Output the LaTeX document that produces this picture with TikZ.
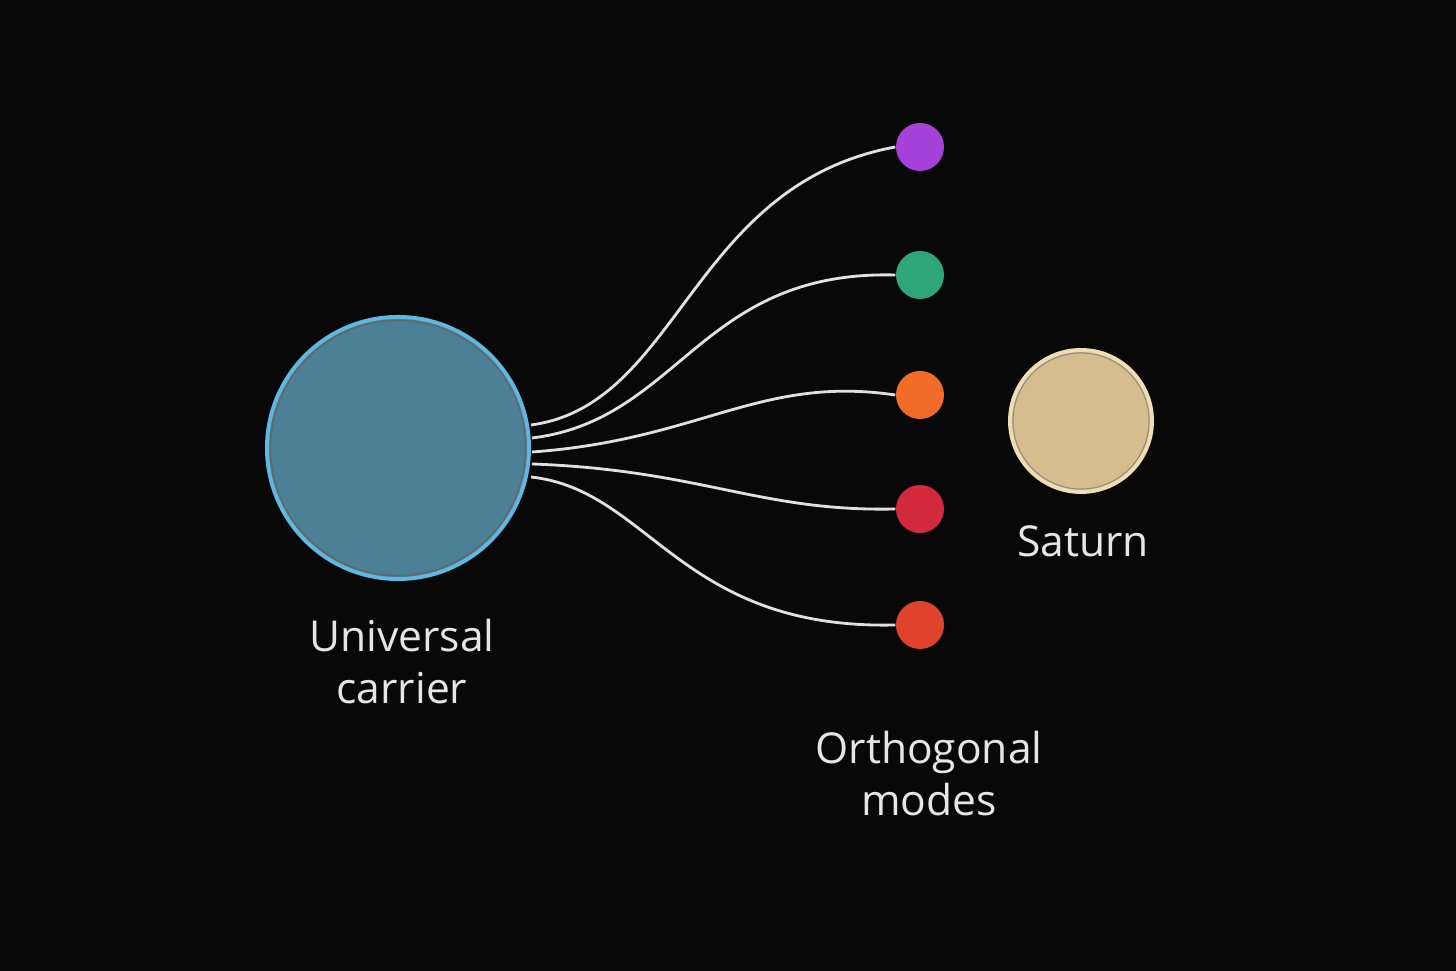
\documentclass[tikz,border=0pt]{standalone}
\usepackage{fontspec}
\setmainfont{Open Sans}
\begin{document}
\begin{tikzpicture}[x=0.01cm,y=-0.01cm,
  lbl/.style={text=labelgray, font=\fontsize{12.1}{14.8}\selectfont, align=center, inner sep=0pt},
  wire/.style={draw=wiregray, line width=0.8pt}]
\definecolor{bg}{HTML}{080808}
\definecolor{labelgray}{HTML}{E6E6E6}
\definecolor{wiregray}{HTML}{E0E0E0}
\definecolor{carrierfill}{HTML}{4B8097}
\definecolor{carrierrim}{HTML}{5DB8E2}
\definecolor{saturnfill}{HTML}{D5BD8E}
\definecolor{saturnrim}{HTML}{F2DDB0}
\definecolor{mpurple}{HTML}{A441D8}
\definecolor{mgreen}{HTML}{2EA67A}
\definecolor{morange}{HTML}{F06A28}
\definecolor{mred}{HTML}{D22A3C}
\definecolor{mredor}{HTML}{E0432C}
\fill[bg] (0,0) rectangle (1456,971);
\useasboundingbox (0,0) rectangle (1456,971);
% carrier
\node[circle, minimum size=2.62cm, inner sep=0pt, fill=carrierfill, draw=carrierrim, line width=1.1pt] (carrier) at (398,448) {};
\draw[black!60, line width=0.4pt] (carrier.center) circle (1.275cm);
% saturn
\node[circle, minimum size=1.42cm, inner sep=0pt, fill=saturnfill, draw=saturnrim, line width=1.1pt] (saturn) at (1081,421) {};
\draw[black!45, line width=0.3pt] (saturn.center) circle (0.68cm);
% modes
\foreach \n/\yy/\c in {m1/147/mpurple, m2/275/mgreen, m3/395/morange, m4/509/mred, m5/625/mredor}{
  \node[circle, minimum size=0.48cm, inner sep=0pt, fill=\c] (\n) at (920,\yy) {};
}
% wires
\coordinate (s1) at (531,425);
\coordinate (s2) at (532,438);
\coordinate (s3) at (532,452);
\coordinate (s4) at (532,464);
\coordinate (s5) at (531,477);
\draw[wire] (s1) .. controls (680,405) and (690,185) .. (m1.west);
\draw[wire] (s2) .. controls (680,420) and (700,270) .. (m2.west);
\draw[wire] (s3) .. controls (700,440) and (760,375) .. (m3.west);
\draw[wire] (s4) .. controls (700,470) and (760,512) .. (m4.west);
\draw[wire] (s5) .. controls (650,490) and (680,630) .. (m5.west);
% labels
\node[lbl] (lcarrier) at (402,662) {Universal\\carrier};
\node[lbl] (lsaturn) at (1083,541) {Saturn};
\node[lbl] (lmodes) at (929,774) {Orthogonal\\modes};
\end{tikzpicture}
\end{document}
